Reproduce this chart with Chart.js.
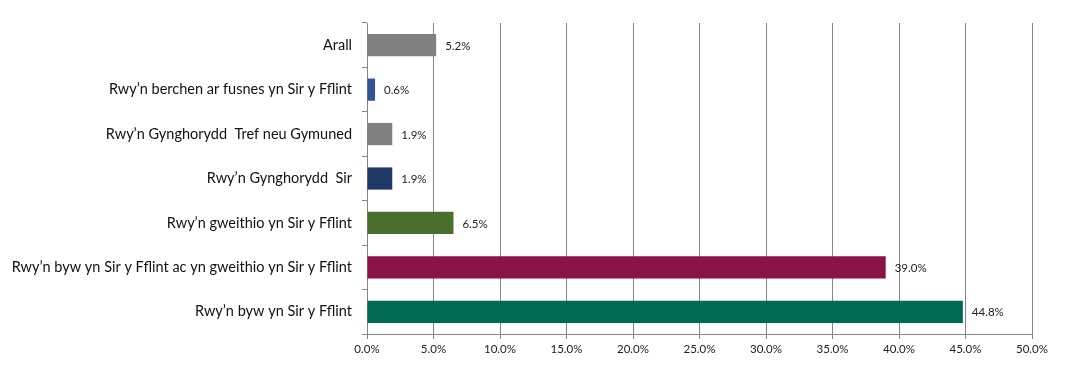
<!DOCTYPE html>
<html>
<head>
<meta charset="utf-8">
<script src="https://cdn.jsdelivr.net/npm/chart.js@4"></script>
<style>
  html, body { margin: 0; padding: 0; background: #fff; }
  #wrap { width: 1066px; height: 372px; }
</style>
</head>
<body>
<div id="wrap"><canvas id="chart"></canvas></div>
<script>
const categories = [
  "Arall",
  "Rwy’n berchen ar fusnes yn Sir y Fflint",
  "Rwy’n Gynghorydd  Tref neu Gymuned",
  "Rwy’n Gynghorydd  Sir",
  "Rwy’n gweithio yn Sir y Fflint",
  "Rwy’n byw yn Sir y Fflint ac yn gweithio yn Sir y Fflint",
  "Rwy’n byw yn Sir y Fflint"
];
const values = [5.2, 0.6, 1.9, 1.9, 6.5, 39.0, 44.8];
const barColors = ["#808080", "#2f5597", "#808080", "#1f3864", "#4a6e2b", "#8a1246", "#006a53"];
const xTicks = [0, 5, 10, 15, 20, 25, 30, 35, 40, 45, 50];

const fontFamily = "Lato, 'Open Sans', sans-serif";

// draws the "5.2%" labels next to each bar
const valueLabels = {
  id: "valueLabels",
  afterDatasetsDraw(chart) {
    const ctx = chart.ctx;
    const meta = chart.getDatasetMeta(0);
    ctx.save();
    ctx.font = "11.5px " + fontFamily;
    ctx.fillStyle = "#222";
    ctx.textAlign = "left";
    ctx.textBaseline = "middle";
    meta.data.forEach((bar, i) => {
      ctx.fillText(values[i].toFixed(1) + "%", bar.x + 9, bar.y + 1);
    });
    ctx.restore();
  }
};

const chart = new Chart(document.getElementById("chart"), {
  type: "bar",
  data: {
    labels: categories,
    datasets: [{
      data: values,
      backgroundColor: barColors,
      barPercentage: 0.5,
      categoryPercentage: 1.0
    }]
  },
  options: {
    indexAxis: "y",
    responsive: true,
    maintainAspectRatio: false,
    animation: false,
    layout: { padding: { top: 23, right: 34, left: 0, bottom: 0 } },
    plugins: {
      legend: { display: false },
      tooltip: { enabled: false }
    },
    scales: {
      x: {
        min: 0,
        max: 50,
        afterBuildTicks: (scale) => { scale.ticks = xTicks.map((v) => ({ value: v })); },
        afterFit: (scale) => { scale.height = 38; },
        border: { color: "#868686", width: 1 },
        grid: { color: "#868686", lineWidth: 1, tickLength: 5 },
        ticks: {
          color: "#222",
          padding: 3,
          font: { size: 11.5, family: fontFamily },
          callback: (v) => v.toFixed(1) + "%"
        }
      },
      y: {
        afterFit: (scale) => { scale.width = 367; },
        border: { color: "#868686", width: 1 },
        grid: { drawOnChartArea: false, color: "#868686", tickLength: 5 },
        ticks: {
          color: "#111",
          padding: 10,
          font: { size: 14.5, family: fontFamily }
        }
      }
    }
  },
  plugins: [valueLabels]
});
</script>
</body>
</html>
